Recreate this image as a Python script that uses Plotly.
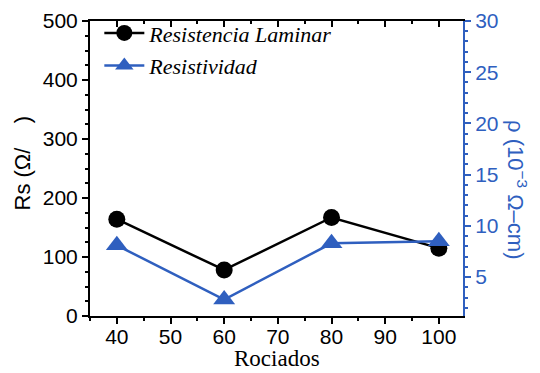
import plotly.graph_objects as go

# Number of spray passes
rociados = [40, 60, 80, 100]
# Sheet resistance, Ohm/sq
resistencia_laminar = [164, 78, 167, 115]
# Resistivity, 10^-3 Ohm-cm
resistividad = [8.1, 2.8, 8.3, 8.5]

x_ticks = [40, 50, 60, 70, 80, 90, 100]
rs_ticks = [0, 100, 200, 300, 400, 500]
rho_ticks = [5, 10, 15, 20, 25, 30]

BLUE = "#2f5fbf"
SANS = "Liberation Sans, Arial, sans-serif"
SERIF = "Liberation Serif, Times New Roman, serif"

fig = go.Figure()

fig.add_trace(go.Scatter(
    x=rociados, y=resistencia_laminar, name="Resistencia Laminar",
    mode="lines+markers", legendgroup="rs",
    line=dict(color="black", width=2.5),
    marker=dict(symbol="circle", size=17, color="black"),
    yaxis="y", xaxis="x",
))
fig.add_trace(go.Scatter(
    x=rociados, y=resistividad, name="Resistividad",
    mode="lines+markers", legendgroup="rho",
    line=dict(color=BLUE, width=2.5),
    marker=dict(symbol="triangle-up", size=19, color=BLUE),
    yaxis="y2", xaxis="x",
))

fig.update_layout(
    width=540, height=373,
    margin=dict(l=90, r=77, t=21, b=57, autoexpand=False),
    paper_bgcolor="white", plot_bgcolor="white",
    showlegend=True,
    legend=dict(
        x=0.025, y=1.03, xanchor="left", yanchor="top",
        bgcolor="rgba(0,0,0,0)",
        font=dict(family=SERIF, size=22, color="black", style="italic"),
        itemwidth=40, tracegroupgap=1,
    ),
    xaxis=dict(
        range=[35, 104.5], tickvals=x_ticks, automargin=False,
        ticks="outside", ticklen=6, tickwidth=2, tickcolor="black",
        ticklabelstandoff=-5,
        minor=dict(dtick=5, ticks="outside", ticklen=3, tickwidth=2, tickcolor="black"),
        showline=True, linecolor="black", linewidth=2,
        showgrid=False, zeroline=False,
        tickfont=dict(family=SANS, size=21, color="black"),
    ),
    xaxis2=dict(
        range=[35, 104.5], overlaying="x", side="top", matches="x", automargin=False,
        tickvals=x_ticks, showticklabels=False,
        ticks="inside", ticklen=6, tickwidth=2, tickcolor="black",
        minor=dict(dtick=5, ticks="inside", ticklen=3, tickwidth=2, tickcolor="black"),
        showline=True, linecolor="black", linewidth=2,
        showgrid=False, zeroline=False,
    ),
    yaxis=dict(
        range=[0, 500], tickvals=rs_ticks, automargin=False,
        ticks="outside", ticklen=6, tickwidth=2, tickcolor="black",
        minor=dict(dtick=25, ticks="outside", ticklen=3, tickwidth=2, tickcolor="black"),
        showline=True, linecolor="black", linewidth=2,
        showgrid=False, zeroline=False,
        tickfont=dict(family=SANS, size=21, color="black"),
    ),
    yaxis2=dict(
        range=[1.2, 30], overlaying="y", side="right", tickvals=rho_ticks, automargin=False,
        ticks="outside", ticklen=6, tickwidth=2, tickcolor=BLUE,
        minor=dict(dtick=1, ticks="outside", ticklen=3, tickwidth=2, tickcolor=BLUE),
        showline=True, linecolor=BLUE, linewidth=2,
        showgrid=False, zeroline=False,
        tickfont=dict(family=SANS, size=21, color=BLUE),
    ),
)

# Invisible trace so the top x axis is drawn
fig.add_trace(go.Scatter(x=[35], y=[0], xaxis="x2", yaxis="y", mode="markers",
                         marker=dict(opacity=0), showlegend=False, hoverinfo="skip"))

# Axis titles
fig.add_annotation(
    text="Rociados",
    xref="paper", yref="paper", x=0.5, y=-0.145, xanchor="center", yanchor="middle",
    showarrow=False, font=dict(family=SERIF, size=23, color="black"),
)
fig.add_annotation(
    text="Rs (Ω/    )", textangle=-90,
    xref="paper", yref="paper", x=-0.18, y=0.52, xanchor="center", yanchor="middle",
    showarrow=False, font=dict(family=SANS, size=22, color="black"),
)
fig.add_annotation(
    text="ρ (10<sup>−3</sup> Ω–cm)", textangle=90,
    xref="paper", yref="paper", x=1.145, y=0.43, xanchor="center", yanchor="middle",
    showarrow=False, font=dict(family=SANS, size=22, color=BLUE),
)

fig.write_html("out.html")
